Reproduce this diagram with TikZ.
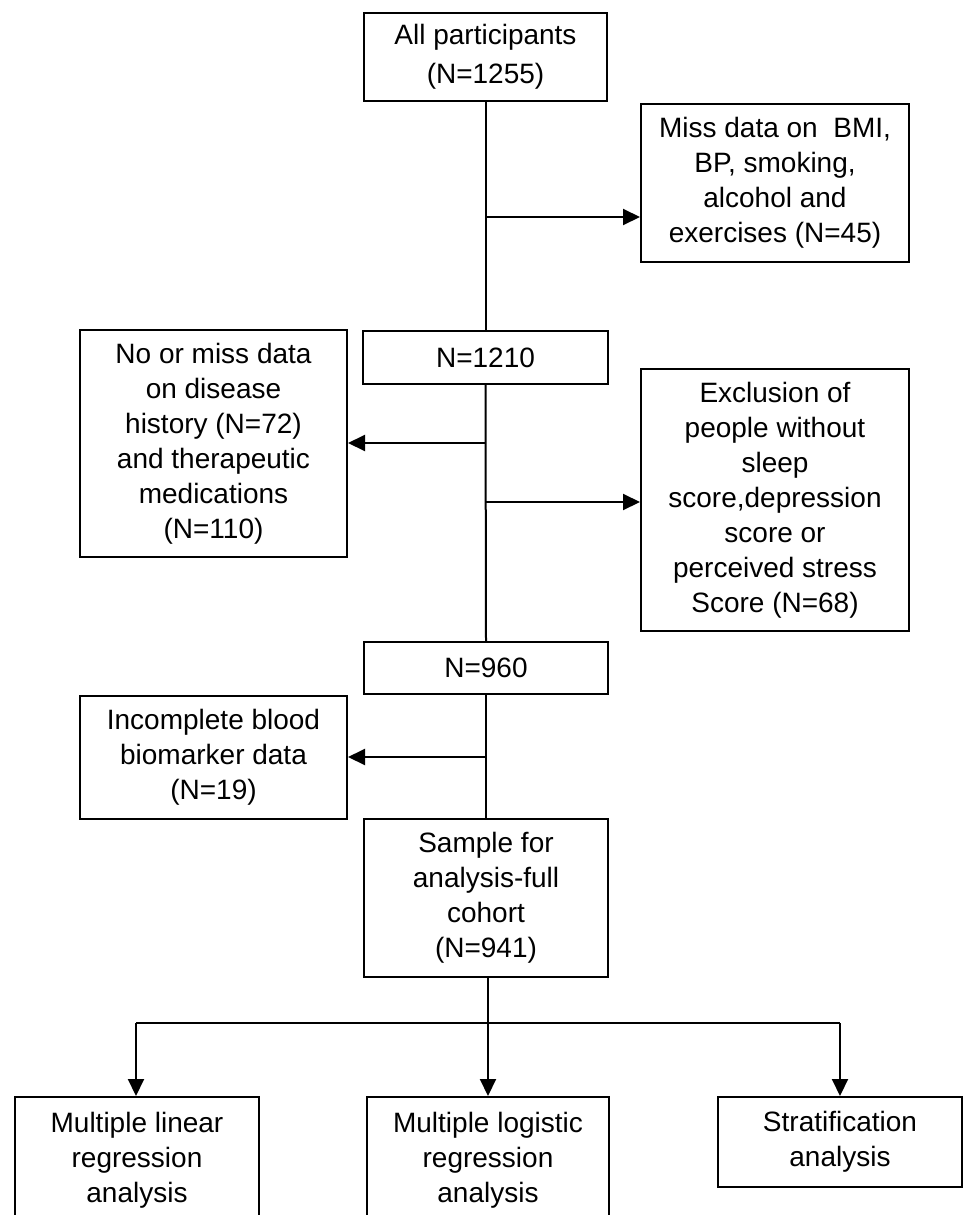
\documentclass[tikz,border=0pt]{standalone}
\usepackage{fontspec}
\setmainfont{Liberation Sans}
\usetikzlibrary{arrows.meta}
\begin{document}
\begin{tikzpicture}[x=1pt,y=-1pt,
  box/.style={draw,line width=2pt,rectangle,inner sep=0pt,align=center,
    font=\fontsize{28}{35}\selectfont},
  link/.style={line width=2pt},
  arr/.style={line width=2pt,-{Triangle[length=17pt,width=16pt]}}]
\useasboundingbox (0,0) rectangle (963,1215);
\clip (0,0) rectangle (963,1215);
\fill[white] (0,0) rectangle (963,1215);
\node[box,minimum width=243,minimum height=88,font=\fontsize{28}{39}\selectfont] (all) at (485.5,57) {All participants\\ (N=1255)};
\node[box,minimum width=268,minimum height=158] (miss) at (775,183) {Miss data on\ \ BMI,\\BP, smoking,\\alcohol and\\exercises (N=45)};
\node[box,minimum width=245,minimum height=53] (n1210) at (485.5,357.5) {N=1210};
\node[box,minimum width=267,minimum height=227] (nomiss) at (213.5,443.5) {No or miss data\\on disease\\history (N=72)\\and therapeutic\\medications\\(N=110)};
\node[box,minimum width=268,minimum height=262] (excl) at (775,500) {Exclusion of\\people without\\sleep\\score,depression\\score or\\perceived stress\\Score (N=68)};
\node[box,minimum width=244,minimum height=52] (n960) at (486,668) {N=960};
\node[box,minimum width=267,minimum height=123] (blood) at (213.5,757.5) {Incomplete blood\\biomarker data\\(N=19)};
\node[box,minimum width=244,minimum height=158] (sample) at (486,898) {Sample for\\analysis-full\\cohort\\(N=941)};
\node[box,minimum width=244,minimum height=126] (lin) at (137,1160) {Multiple linear\\regression\\analysis};
\node[box,minimum width=242,minimum height=126] (log) at (488,1160) {Multiple logistic\\regression\\analysis};
\node[box,minimum width=244,minimum height=90] (strat) at (840,1142) {Stratification\\analysis};
% main trunk
\draw[link] (all.south) -- (n1210.north);
\draw[link] (n1210.south) -- (n960.north);
\draw[link] (n960.south) -- (sample.north);
% branches
\coordinate (b1) at (485.5,217);
\coordinate (b2) at (485.5,443);
\coordinate (b3) at (485.5,502);
\coordinate (b4) at (486,757);
\draw[arr] (b1) -- (b1 -| miss.west);
\draw[arr] (b2) -- (b2 -| nomiss.east);
\draw[arr] (b3) -- (b3 -| excl.west);
\draw[arr] (b4) -- (b4 -| blood.east);
% bottom split
\coordinate (split) at (488,1023);
\coordinate (sl) at (136,1023);
\coordinate (sr) at (840,1023);
\draw[link] (sample.south -| split) -- (split);
\draw[link] (sl) -- (sr);
\draw[arr] (sl) -- (sl |- lin.north);
\draw[arr] (split) -- (log.north);
\draw[arr] (sr) -- (strat.north);
\end{tikzpicture}
\end{document}
